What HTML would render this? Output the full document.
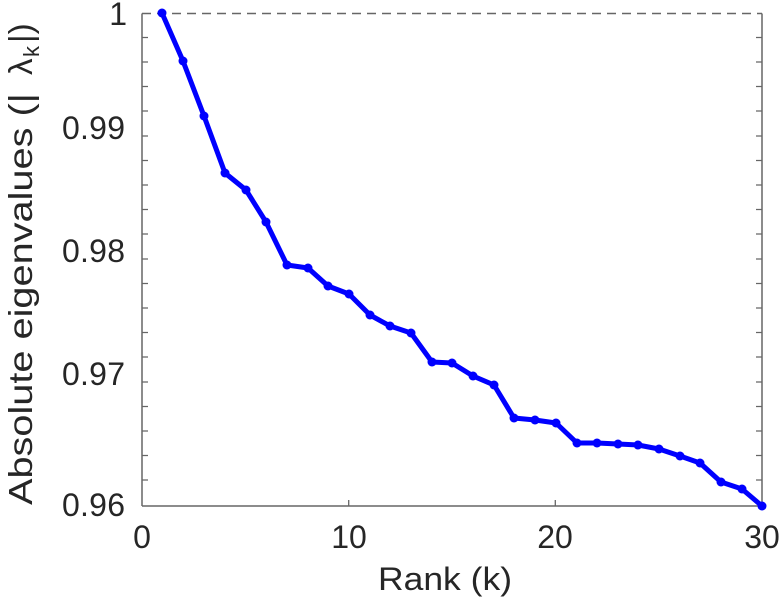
<!DOCTYPE html>
<html><head><style>body{margin:0;background:#fff}svg{display:block}text{font-family:"Liberation Sans",sans-serif;fill:#262626}</style></head><body>
<svg width="782" height="600" viewBox="0 0 782 600">
<g stroke="#666" stroke-width="1.5" fill="none">
<line x1="142" y1="13.5" x2="142" y2="506"/>
<line x1="142" y1="506" x2="762" y2="506"/>
<line x1="762" y1="13.5" x2="762" y2="506"/>
<line x1="142" y1="13.5" x2="762" y2="13.5" stroke-dasharray="9,6"/>
</g>
<g stroke="#666" stroke-width="1.3">
<path d="M142 37.5h6M142 62h6M142 86.5h6M142 111h6M142 136h6M142 160.5h6M142 185h6M142 209.5h6M142 234h6M142 259h6M142 283.5h6M142 308h6M142 332.5h6M142 357h6M142 382h6M142 406.5h6M142 431h6M142 455.5h6M142 480h6"/>
<path d="M762 37.5h-6M762 62h-6M762 86.5h-6M762 111h-6M762 136h-6M762 160.5h-6M762 185h-6M762 209.5h-6M762 234h-6M762 259h-6M762 283.5h-6M762 308h-6M762 332.5h-6M762 357h-6M762 382h-6M762 406.5h-6M762 431h-6M762 455.5h-6M762 480h-6"/>
<path d="M348.7 506v-6M555.3 506v-6"/>
</g>
<g font-size="32" text-anchor="end">
<text x="127" y="25">1</text>
<text x="125" y="139" textLength="63">0.99</text>
<text x="125" y="262" textLength="63">0.98</text>
<text x="125" y="385" textLength="63">0.97</text>
<text x="125" y="516" textLength="63">0.96</text>
</g>
<g font-size="32" text-anchor="middle">
<text x="142" y="548">0</text>
<text x="349" y="548">10</text>
<text x="555" y="548">20</text>
<text x="762" y="548">30</text>
</g>
<text x="378" y="590" font-size="32" textLength="134" lengthAdjust="spacingAndGlyphs">Rank (k)</text>
<g font-size="33" transform="translate(32,0) rotate(-90)">
<text x="-505" y="0" textLength="412" lengthAdjust="spacingAndGlyphs">Absolute eigenvalues (|</text>
<text x="-75" y="0">λ</text>
<text x="-57" y="7" font-size="22">k</text>
<text x="-43" y="0">|)</text>
</g>
<polyline fill="none" stroke="#0000ff" stroke-width="5" stroke-linejoin="round" points="162,13 183,61 204,116 225,173 246,190 266,222 287,265 308,268 328,286 349,294 370,315 390,326 411,333 432,362 452,363 473,376 494,385 514,418 535,420 556,423 577,443 597,443 618,444 638,445 659,449 680,456 700,463 721,482 742,489 762,506"/>
<g fill="#0000ff">
<circle cx="162" cy="13" r="4.5"/><circle cx="183" cy="61" r="4.5"/><circle cx="204" cy="116" r="4.5"/><circle cx="225" cy="173" r="4.5"/><circle cx="246" cy="190" r="4.5"/><circle cx="266" cy="222" r="4.5"/><circle cx="287" cy="265" r="4.5"/><circle cx="308" cy="268" r="4.5"/><circle cx="328" cy="286" r="4.5"/><circle cx="349" cy="294" r="4.5"/><circle cx="370" cy="315" r="4.5"/><circle cx="390" cy="326" r="4.5"/><circle cx="411" cy="333" r="4.5"/><circle cx="432" cy="362" r="4.5"/><circle cx="452" cy="363" r="4.5"/><circle cx="473" cy="376" r="4.5"/><circle cx="494" cy="385" r="4.5"/><circle cx="514" cy="418" r="4.5"/><circle cx="535" cy="420" r="4.5"/><circle cx="556" cy="423" r="4.5"/><circle cx="577" cy="443" r="4.5"/><circle cx="597" cy="443" r="4.5"/><circle cx="618" cy="444" r="4.5"/><circle cx="638" cy="445" r="4.5"/><circle cx="659" cy="449" r="4.5"/><circle cx="680" cy="456" r="4.5"/><circle cx="700" cy="463" r="4.5"/><circle cx="721" cy="482" r="4.5"/><circle cx="742" cy="489" r="4.5"/><circle cx="762" cy="506" r="4.5"/>
</g>
</svg>
</body></html>
